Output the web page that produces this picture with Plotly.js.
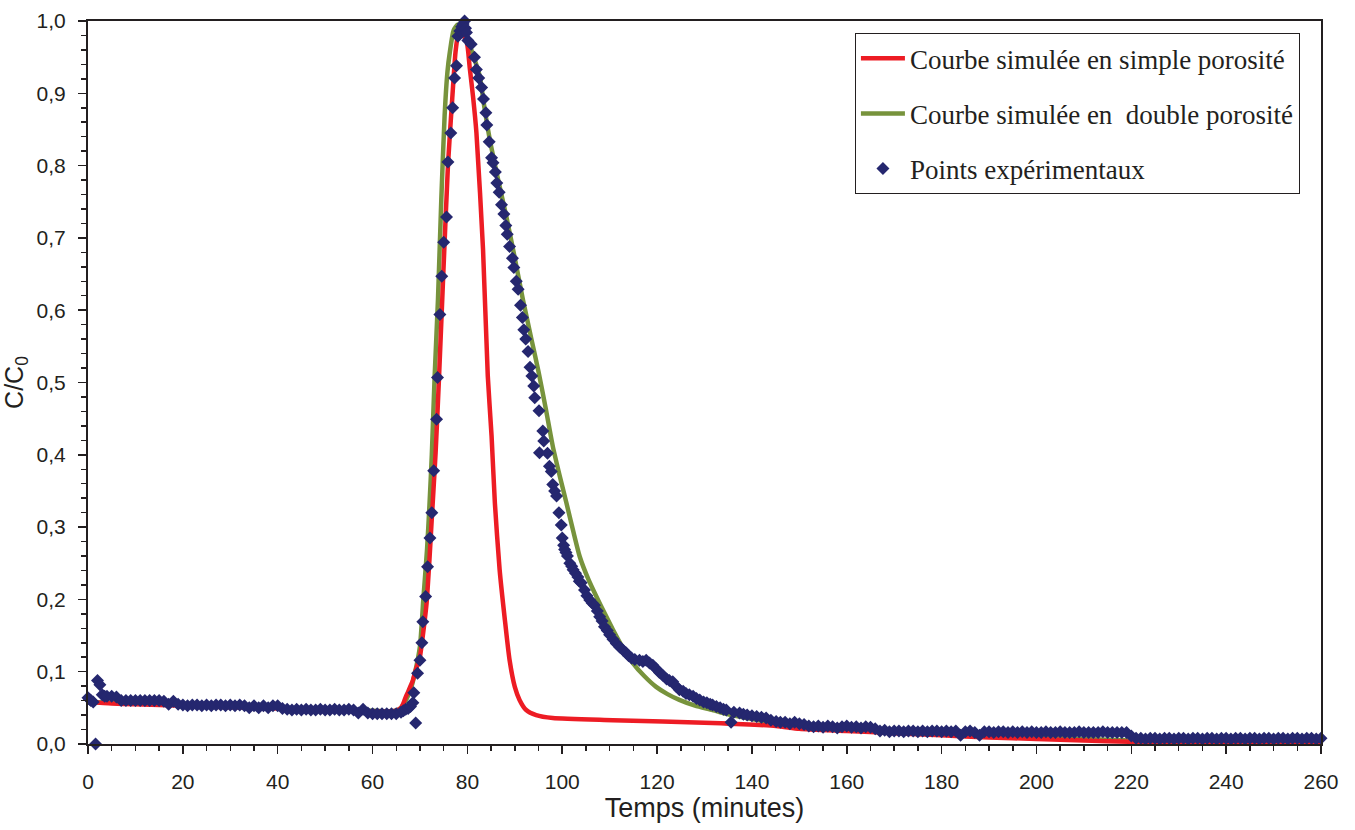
<!DOCTYPE html>
<html>
<head>
<meta charset="utf-8">
<script src="https://cdn.plot.ly/plotly-3.0.1.min.js"></script>
<style>
  html, body { margin: 0; padding: 0; background: #ffffff; }
  #chart { width: 1355px; height: 830px; }
</style>
</head>
<body>
<div id="chart"></div>
<script>
// ---------- Data ----------
const seriesNames = [
  "Courbe simulée en simple porosité",
  "Courbe simulée en  double porosité",
  "Points expérimentaux"
];

// Experimental points: time (minutes)
const expTime = [
  0, 0.3, 0.6, 1.1, 1.6, 2.0, 2.5, 3, 3.5, 4, 5, 6, 7, 8, 9, 10, 11, 12, 13, 14, 15, 16, 17, 18, 19,
  20, 21, 22, 23, 24, 25, 26, 27, 28, 29, 30, 31, 32, 33, 34, 35, 36, 37, 38, 39, 40,
  41, 42, 43, 44, 45, 46, 47, 48, 49, 50, 51, 52, 53, 54, 55, 56, 57, 58, 59, 60, 61, 62, 63, 64, 65,
  66, 66.5, 67, 67.5, 68, 68.5, 68.7, 69.1, 69.5, 70.0, 70.4, 70.6, 71.2, 71.6, 72.1, 72.5, 72.9,
  73.5, 73.7, 74.2, 74.6, 75.0, 75.6, 75.9, 76.5, 76.9, 77.3, 77.7, 78.0, 78.4, 78.8, 79.1, 79.4, 79.6,
  79.8, 80.1, 80.8, 81.5, 81.9, 82.4, 83.0, 83.4, 83.9, 84.1, 84.6, 85.1, 85.4, 85.9, 86.2, 86.7,
  87.2, 87.7, 88.1, 88.4, 88.9, 89.5, 89.8, 90.3, 90.7, 91.2, 91.6, 91.9, 92.3, 92.8, 93.2, 93.6,
  94.0, 94.2, 95.1, 95.2, 95.9, 96.1, 96.9, 97.3, 97.7, 98.0, 98.4, 98.8, 99.3, 99.8, 100.0, 100.3,
  100.5, 100.8, 101.1, 101.6, 102.0, 102.3, 102.8, 103.3, 103.6, 104.0, 104.7, 105.2, 105.8, 106.3,
  106.8, 107.4, 107.9, 108.4, 108.9, 109.5, 110.0, 110.7, 111.4, 112.1, 112.8, 113.5, 114.0, 114.6,
  115.3, 116.3, 117.0, 117.7, 118.4, 119.1, 119.8, 120.5, 121.2, 122.0, 122.6, 123.3, 124.0, 124.7,
  125.5, 126.1, 126.8, 127.6, 128.3, 129.0, 129.8, 130.5, 131.2, 131.7, 132.5, 133.3, 134.0, 134.6,
  135.6, 136.2, 137.4, 138.2, 139.0, 140.0, 141.0, 142.0, 143.0, 144.0, 145.1,
  146, 147, 148, 149, 150, 151, 152, 153, 154, 155, 156, 157, 158, 159, 160, 161, 162, 163, 164, 165,
  166, 167, 168, 169, 170, 171, 172, 173, 174, 175, 176, 177, 178, 179, 180, 181, 182, 183, 184, 185,
  186, 187, 188, 189, 190, 191, 192, 193, 194, 195, 196, 197, 198, 199, 200, 201, 202, 203, 204, 205,
  206, 207, 208, 209, 210, 211, 212, 213, 214, 215, 216, 217, 218, 219, 220, 221, 222, 223, 224, 225,
  226, 227, 228, 229, 230, 231, 232, 233, 234, 235, 236, 237, 238, 239, 240, 241, 242, 243, 244, 245,
  246, 247, 248, 249, 250, 251, 252, 253, 254, 255, 256, 257, 258, 259, 260
];
// Experimental points: C/C0
const expConc = [
  0.064, 0.062, 0.060, 0.058, 0.000, 0.088, 0.082, 0.068, 0.066, 0.066, 0.066, 0.065, 0.060, 0.060, 0.060, 0.060, 0.060, 0.060, 0.060, 0.060, 0.060, 0.059, 0.055, 0.059, 0.055,
  0.054, 0.053, 0.054, 0.054, 0.053, 0.054, 0.053, 0.054, 0.054, 0.053, 0.054, 0.053, 0.054, 0.053, 0.050, 0.053, 0.050, 0.053, 0.050, 0.053, 0.053,
  0.049, 0.048, 0.047, 0.048, 0.047, 0.048, 0.047, 0.047, 0.048, 0.047, 0.047, 0.048, 0.047, 0.047, 0.048, 0.047, 0.043, 0.048, 0.043, 0.042, 0.042, 0.042, 0.042, 0.042, 0.042,
  0.044, 0.046, 0.048, 0.049, 0.052, 0.057, 0.071, 0.029, 0.098, 0.116, 0.140, 0.169, 0.204, 0.245, 0.285, 0.320, 0.378,
  0.449, 0.507, 0.594, 0.647, 0.694, 0.729, 0.805, 0.845, 0.880, 0.921, 0.938, 0.979, 0.986, 0.992, 0.996, 1.000, 0.990,
  0.984, 0.973, 0.968, 0.950, 0.933, 0.921, 0.908, 0.892, 0.873, 0.856, 0.833, 0.811, 0.804, 0.791, 0.776, 0.763,
  0.746, 0.733, 0.717, 0.705, 0.688, 0.672, 0.659, 0.640, 0.629, 0.607, 0.590, 0.573, 0.560, 0.543, 0.521, 0.509,
  0.495, 0.479, 0.461, 0.403, 0.433, 0.419, 0.402, 0.384, 0.377, 0.359, 0.350, 0.343, 0.320, 0.303, 0.285, 0.275,
  0.269, 0.265, 0.260, 0.250, 0.246, 0.241, 0.236, 0.231, 0.225, 0.223, 0.213, 0.205, 0.199, 0.195,
  0.192, 0.184, 0.176, 0.170, 0.162, 0.157, 0.151, 0.145, 0.139, 0.134, 0.130, 0.126, 0.122, 0.119,
  0.117, 0.116, 0.114, 0.116, 0.112, 0.109, 0.104, 0.099, 0.095, 0.090, 0.088, 0.086, 0.080, 0.075,
  0.073, 0.070, 0.068, 0.066, 0.063, 0.061, 0.058, 0.057, 0.055, 0.054, 0.052, 0.050, 0.048, 0.047,
  0.030, 0.044, 0.043, 0.041, 0.040, 0.039, 0.038, 0.037, 0.036, 0.033, 0.031,
  0.030, 0.030, 0.028, 0.030, 0.028, 0.027, 0.025, 0.024, 0.025, 0.023, 0.025, 0.024, 0.022, 0.024, 0.025, 0.023, 0.024, 0.022, 0.024, 0.023,
  0.021, 0.018, 0.019, 0.017, 0.018, 0.018, 0.017, 0.018, 0.018, 0.017, 0.018, 0.017, 0.018, 0.018, 0.017, 0.018, 0.017, 0.018, 0.012, 0.017,
  0.018, 0.016, 0.012, 0.017, 0.017, 0.016, 0.017, 0.017, 0.016, 0.017, 0.016, 0.017, 0.016, 0.017, 0.016, 0.016, 0.017, 0.016, 0.016, 0.017,
  0.016, 0.016, 0.016, 0.017, 0.016, 0.016, 0.016, 0.016, 0.017, 0.016, 0.016, 0.016, 0.016, 0.016, 0.011, 0.008, 0.008, 0.007, 0.008, 0.008,
  0.007, 0.008, 0.008, 0.007, 0.008, 0.008, 0.007, 0.008, 0.008, 0.007, 0.008, 0.008, 0.007, 0.008, 0.008, 0.007, 0.008, 0.008, 0.007, 0.008,
  0.008, 0.007, 0.008, 0.008, 0.007, 0.008, 0.008, 0.007, 0.008, 0.008, 0.007, 0.008, 0.008, 0.007, 0.008
];

// Simulated curve, single porosity
const simpleTime = [0, 5, 10, 20, 30, 40, 50, 60, 64, 65, 66, 66.5, 67, 67.5, 68, 68.5, 69, 69.5, 70, 70.7, 71.4, 72, 72.4,
  73.3, 74.0, 74.9, 75.9, 76.8, 77.5, 78.0, 78.5, 79.0, 79.9, 80.5, 81.2, 81.9, 83.3, 84.3, 85.1, 85.8, 86.8, 87.9,
  88.9, 90.0, 91.0, 92.4, 94.5, 98.0, 110.7, 131.7, 145.1, 150, 160, 170, 180, 190, 200, 210, 220, 230, 240, 260];
const simpleConc = [0.058, 0.056, 0.055, 0.053, 0.051, 0.049, 0.047, 0.045, 0.045, 0.046, 0.050, 0.056, 0.065, 0.072, 0.080, 0.088, 0.100, 0.110, 0.121, 0.155, 0.195, 0.255, 0.301,
  0.403, 0.504, 0.647, 0.800, 0.892, 0.957, 0.980, 0.986, 0.982, 0.970, 0.935, 0.895, 0.846, 0.684, 0.509, 0.426, 0.333, 0.241, 0.172,
  0.116, 0.079, 0.061, 0.047, 0.040, 0.036, 0.033, 0.029, 0.025, 0.021, 0.018, 0.015, 0.012, 0.009, 0.007, 0.005, 0.003, 0.002, 0.001, 0.000];

// Simulated curve, double porosity
const doubleTime = [0, 5, 10, 20, 30, 40, 50, 60, 64, 65, 66, 67, 68, 69, 70, 70.7, 71.5, 72, 72.5, 73.1, 73.8, 74.5, 75.2,
  75.8, 76.3, 77.1, 78.0, 78.7, 79.4, 80.5, 81.5, 82.6, 83.6, 84.7, 86.5, 88.2, 90, 91.7, 93.5, 95.0, 96.5, 98.0, 99.5,
  100.9, 102.3, 103.7, 105.5, 107.2, 109, 110.7, 112.8, 114.9, 117.3, 119.8, 122.2, 124.7, 128, 131.7, 135, 138.8, 145.1,
  150, 160, 170, 180, 190, 200, 210, 220, 230, 240, 250, 260];
const doubleConc = [0.058, 0.057, 0.056, 0.054, 0.052, 0.050, 0.048, 0.046, 0.045, 0.046, 0.050, 0.060, 0.075, 0.100, 0.135, 0.199, 0.270, 0.330, 0.400, 0.509, 0.615, 0.753, 0.869,
  0.930, 0.957, 0.987, 0.995, 0.990, 0.980, 0.966, 0.947, 0.924, 0.880, 0.837, 0.780, 0.730, 0.672, 0.615, 0.560, 0.515, 0.465, 0.412, 0.370,
  0.333, 0.295, 0.259, 0.228, 0.204, 0.180, 0.158, 0.133, 0.112, 0.094, 0.079, 0.069, 0.061, 0.053, 0.047, 0.041, 0.036, 0.029,
  0.026, 0.021, 0.017, 0.014, 0.011, 0.009, 0.007, 0.005, 0.003, 0.002, 0.001, 0.000];

const xTickVals = [0, 20, 40, 60, 80, 100, 120, 140, 160, 180, 200, 220, 240, 260];

// ---------- Styling ----------
const ink = '#231F20';
const traces = [
  {
    x: doubleTime, y: doubleConc, type: 'scatter', mode: 'lines',
    name: seriesNames[1], legendrank: 2, legendgroup: 'g2',
    line: { color: '#77933C', width: 4.5, shape: 'spline', smoothing: 0.6 },
    cliponaxis: false
  },
  {
    x: simpleTime, y: simpleConc, type: 'scatter', mode: 'lines',
    name: seriesNames[0], legendrank: 1, legendgroup: 'g1',
    line: { color: '#ED1C24', width: 4.5, shape: 'spline', smoothing: 0.6 },
    cliponaxis: false
  },
  {
    x: expTime, y: expConc, type: 'scatter', mode: 'markers',
    name: seriesNames[2], legendrank: 3, legendgroup: 'g3',
    marker: { symbol: 'diamond', size: 10, color: '#25276F', line: { width: 0 } },
    cliponaxis: false
  }
];

const layout = {
  width: 1355, height: 830,
  margin: { l: 88, r: 34, t: 21, b: 86 },
  paper_bgcolor: '#ffffff', plot_bgcolor: '#ffffff',
  separators: ', ',
  font: { family: 'Liberation Sans, Arial, sans-serif', color: ink, size: 21 },
  showlegend: true,
  legend: {
    x: 0.622, y: 0.983, xanchor: 'left', yanchor: 'top',
    bgcolor: '#ffffff', bordercolor: ink, borderwidth: 1,
    font: { family: 'Liberation Serif, Times New Roman, serif', size: 27, color: ink },
    traceorder: 'grouped', tracegroupgap: 17, itemwidth: 44
  },
  xaxis: {
    range: [0, 260], tickmode: 'array', tickvals: xTickVals,
    ticks: 'outside', ticklen: 8, tickwidth: 1.5, tickcolor: ink,
    minor: { dtick: 5, ticks: 'outside', ticklen: 5, tickwidth: 1.5, tickcolor: ink },
    showline: true, linecolor: ink, linewidth: 2, mirror: true,
    showgrid: false, zeroline: false,
    tickfont: { size: 21, color: ink }, ticklabelstandoff: 10,
    title: { text: 'Temps (minutes)', font: { size: 27, color: ink }, standoff: 4 },
    automargin: false
  },
  yaxis: {
    range: [0, 1], dtick: 0.1, tick0: 0, tickformat: '.1f',
    ticks: 'outside', ticklen: 8, tickwidth: 1.5, tickcolor: ink,
    minor: { dtick: 0.02, ticks: 'outside', ticklen: 5, tickwidth: 1.5, tickcolor: ink },
    showline: true, linecolor: ink, linewidth: 2, mirror: true,
    showgrid: false, zeroline: false,
    tickfont: { size: 21, color: ink }, ticklabelstandoff: 8,
    title: { text: 'C/C<sub>0</sub>', font: { size: 25, color: ink }, standoff: 6 },
    automargin: false
  }
};

Plotly.newPlot('chart', traces, layout, { staticPlot: true, displayModeBar: false });
</script>
</body>
</html>
